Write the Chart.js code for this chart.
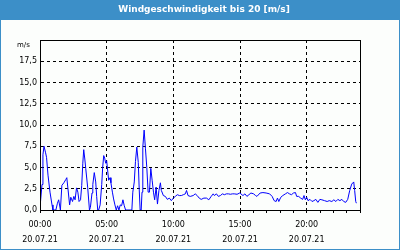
<!DOCTYPE html>
<html lang="de">
  <head>
    <meta charset="UTF-8" />
    <title>Windgeschwindigkeit</title>
    <style>
      body {
        margin: 0;
        background: #fff;
      }
      #wrap {
        width: 400px;
        height: 250px;
      }
    </style>
  </head>
  <body>
    <div id="wrap"><canvas id="chart" width="400" height="250"></canvas></div>

    <script src="https://cdn.jsdelivr.net/npm/chart.js@4.4.0/dist/chart.umd.min.js"></script>
    <script>
      const title = "Windgeschwindigkeit bis 20 [m/s]";
      const unit = "m/s";
      const xTimes = ["00:00", "05:00", "10:00", "15:00", "20:00"];
      const xDates = ["20.07.21", "20.07.21", "20.07.21", "20.07.21", "20.07.21"];
      const yLabels = ["0,0", "2,5", "5,0", "7,5", "10,0", "12,5", "15,0", "17,5", ""];

      // hour of day
      const hours = [
        0.00, 0.07, 0.15, 0.22, 0.30, 0.41, 0.49, 0.60, 0.75, 0.90,
        0.97, 1.19, 1.31, 1.40, 1.53, 1.57, 1.64, 1.79, 1.94, 2.01,
        2.13, 2.22, 2.31, 2.44, 2.54, 2.63, 2.74, 2.84, 2.93, 3.04,
        3.13, 3.21, 3.28, 3.36, 3.43, 3.58, 3.71, 3.78, 3.90, 3.96,
        4.07, 4.18, 4.25, 4.33, 4.40, 4.51, 4.63, 4.70, 4.78, 4.85,
        4.93, 5.00, 5.07, 5.15, 5.25, 5.32, 5.43, 5.52, 5.62, 5.72,
        5.82, 5.92, 6.02, 6.12, 6.22, 6.32, 6.42, 6.89, 6.96, 7.07,
        7.16, 7.26, 7.37, 7.44, 7.51, 7.59, 7.65, 7.71, 7.81, 7.91,
        8.01, 8.11, 8.21, 8.31, 8.41, 8.51, 8.60, 8.71, 8.81, 8.92,
        9.03, 9.10, 9.18, 9.25, 9.40, 9.55, 9.70, 9.85, 10.00, 10.15,
        10.30, 10.45, 10.60, 10.75, 10.90, 10.99, 11.10, 11.27, 11.49, 11.64,
        11.79, 11.94, 12.09, 12.29, 12.49, 12.66, 12.84, 12.99, 13.08, 13.23,
        13.38, 13.53, 13.68, 13.83, 13.98, 14.13, 14.28, 14.43, 14.57, 14.78,
        14.98, 15.07, 15.22, 15.37, 15.52, 15.67, 15.82, 16.02, 16.17, 16.27,
        16.51, 16.72, 16.96, 17.22, 17.41, 17.56, 17.71, 17.81, 17.91, 18.06,
        18.21, 18.41, 18.56, 18.71, 18.86, 19.01, 19.16, 19.25, 19.40, 19.55,
        19.70, 19.80, 19.90, 20.00, 20.10, 20.25, 20.40, 20.54, 20.69, 20.84,
        20.99, 21.14, 21.34, 21.54, 21.69, 21.89, 22.04, 22.19, 22.34, 22.49,
        22.64, 22.78, 22.93, 23.08, 23.23, 23.38, 23.53, 23.60, 23.68, 23.73,
      ];
      // m/s
      const speeds = [
        0.3, 0.3, 3.0, 6.5, 7.5, 6.8, 6.2, 4.1, 2.1, 0.6,
        0, 0, 0.8, 1.2, 0, 0, 2.9, 3.2, 3.6, 3.8,
        2.0, 0.6, 1.5, 1.0, 1.6, 1.2, 2.6, 2.1, 1.0, 1.2,
        2.9, 5.5, 7.1, 6.0, 4.9, 2.6, 0, 0.3, 2.0, 3.0,
        4.4, 3.3, 1.6, 0, 0, 0.6, 3.0, 5.0, 6.4, 6.1,
        5.5, 5.8, 4.7, 3.5, 3.8, 3.2, 2.1, 1.3, 0.6, 0,
        0.5, 0, 0.6, 0.5, 1.2, 0.5, 0, 0, 2.1, 3.3,
        5.7, 7.4, 5.6, 2.5, 0, 0, 2.1, 7.4, 9.4, 7.2,
        5.0, 2.1, 2.1, 4.9, 3.5, 2.1, 1.2, 2.7, 0.7, 2.3,
        3.2, 2.3, 2.0, 1.7, 1.6, 1.25, 1.4, 1.1, 1.4, 1.6,
        1.8, 1.7, 1.7, 1.8, 1.9, 2.3, 1.7, 1.6, 1.7, 1.9,
        1.7, 1.4, 1.25, 1.4, 1.4, 1.2, 1.6, 1.9, 1.7, 1.9,
        1.6, 1.7, 1.9, 1.8, 1.9, 1.9, 1.85, 1.9, 1.9, 1.85,
        2.0, 1.9, 1.7, 1.9, 1.6, 1.8, 2.0, 1.9, 1.7, 1.6,
        2.0, 2.05, 2.0, 1.9, 1.6, 1.1, 1.0, 1.4, 1.0, 1.5,
        1.7, 1.9, 2.05, 1.9, 1.8, 2.0, 2.05, 1.6, 1.6, 1.4,
        1.25, 1.7, 1.2, 1.5, 1.1, 1.25, 1.0, 1.1, 1.25, 0.9,
        1.25, 1.2, 1.1, 1.0, 1.1, 1.0, 1.2, 1.0, 1.25, 1.1,
        1.25, 1.0, 0.9, 1.25, 2.3, 3.05, 3.3, 2.3, 1.0, 0.8,
      ];

      const frame = {
        id: "frame",
        beforeDraw(chart) {
          const { ctx, width, height } = chart;
          ctx.save();
          ctx.fillStyle = "#fcfefc";
          ctx.fillRect(0, 0, width, height);
          ctx.fillStyle = "#3c8fc8";
          ctx.fillRect(0, 0, width, 20);
          ctx.fillRect(0, 0, 1, height);
          ctx.fillRect(width - 1, 0, 1, height);
          ctx.fillRect(0, height - 1, width, 1);
          ctx.fillStyle = "#fff";
          ctx.font = 'bold 9px "DejaVu Sans"';
          ctx.textAlign = "center";
          ctx.textBaseline = "middle";
          ctx.fillText(title, 204, 10);
          ctx.restore();
        },
        afterDraw(chart) {
          const { ctx, chartArea: a } = chart;
          ctx.save();
          ctx.strokeStyle = "#000";
          ctx.lineWidth = 1;
          ctx.strokeRect(a.left + 0.5, a.top + 0.5, a.right - a.left, a.bottom - a.top);
          ctx.fillStyle = "#000";
          ctx.font = '7px "DejaVu Sans"';
          ctx.textAlign = "left";
          ctx.textBaseline = "middle";
          ctx.fillText(unit, 17, 45);
          ctx.restore();
        },
      };

      const tickFont = { family: "DejaVu Sans", size: 8, lineHeight: 1.875 };

      new Chart(document.getElementById("chart"), {
        type: "line",
        data: {
          datasets: [
            {
              data: hours.map((h, i) => ({ x: h, y: speeds[i] })),
              borderColor: "#0000ff",
              borderWidth: 1,
              pointRadius: 0,
              tension: 0,
              fill: false,
            },
          ],
        },
        options: {
          responsive: false,
          animation: false,
          layout: { padding: { left: 0, right: 40, top: 40, bottom: 0 } },
          plugins: { legend: { display: false }, tooltip: { enabled: false } },
          scales: {
            x: {
              type: "linear",
              min: 0,
              max: 24,
              afterFit: s => (s.height = 40),
              ticks: {
                stepSize: 1,
                autoSkip: false,
                maxRotation: 0,
                minRotation: 0,
                padding: 4,
                color: "#000",
                font: tickFont,
                callback: v => (v % 5 === 0 && v < 24 ? [xTimes[v / 5], xDates[v / 5]] : ""),
              },
              grid: {
                color: c => (c.tick && c.tick.value % 5 === 0 ? "#000" : "rgba(0,0,0,0)"),
                tickColor: "#000",
                tickLength: 3,
                tickBorderDash: [],
                lineWidth: 1,
              },
              border: { display: true, color: "#000", width: 1, dash: [3, 3] },
            },
            y: {
              min: 0,
              max: 20,
              afterFit: s => (s.width = 40),
              ticks: {
                stepSize: 2.5,
                padding: 3,
                color: "#000",
                font: { family: "DejaVu Sans", size: 8 },
                callback: (v, i) => yLabels[i],
              },
              grid: { color: "#000", drawTicks: false, lineWidth: 1 },
              border: { display: true, color: "#000", width: 1, dash: [3, 3] },
            },
          },
        },
        plugins: [frame],
      });
    </script>
  </body>
</html>
